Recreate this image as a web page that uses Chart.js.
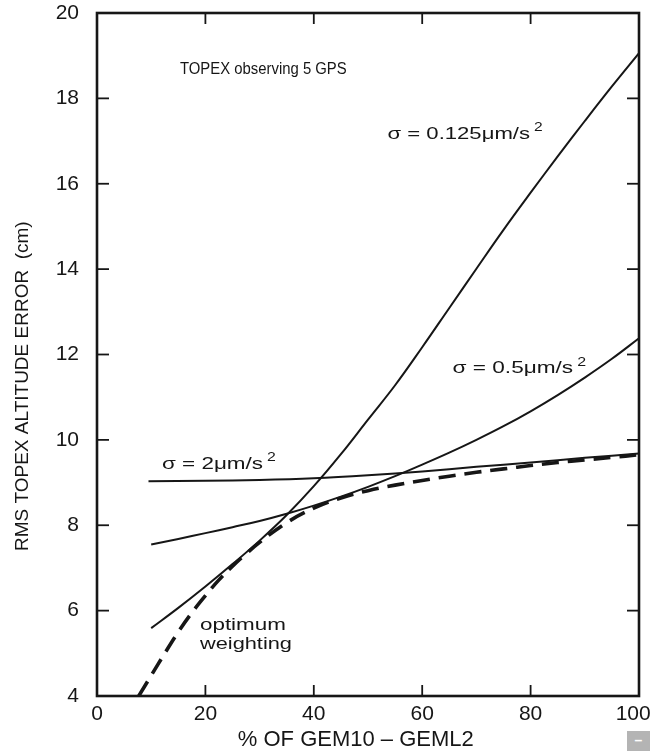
<!DOCTYPE html>
<html>
<head>
<meta charset="utf-8">
<script src="https://cdn.jsdelivr.net/npm/chart.js@4.4.1/dist/chart.umd.min.js"></script>
<style>
  html, body { margin: 0; padding: 0; background: #fff; }
  #wrap { position: relative; width: 653px; height: 753px; }
  canvas { display: block; }
  #mini { position: absolute; left: 627px; top: 731px; width: 23px; height: 20px; background: #b4b4b4; color: #fff;
          font: bold 14px 'Liberation Sans', Arial, sans-serif; text-align: center; line-height: 19px; }
</style>
</head>
<body>
<div id="wrap">
  <canvas id="c" width="653" height="753"></canvas>
  <div id="mini">–</div>
</div>
<script>
// ---- tick labels ----
const xTickValues = [0, 20, 40, 60, 80, 100];
const yTickValues = [4, 6, 8, 10, 12, 14, 16, 18, 20];

// ---- series: sigma = 0.125 um/s^2 ----
const xSigma0125 = [10, 15, 20, 25, 30, 35, 40, 45, 50, 55, 60, 65, 70, 75, 80, 85, 90, 95, 100];
const ySigma0125 = [5.59, 6.065, 6.565, 7.09, 7.64, 8.24, 8.915, 9.665, 10.475, 11.28, 12.17, 13.09, 14.01, 14.92, 15.79, 16.64, 17.47, 18.28, 19.06];

// ---- series: sigma = 0.5 um/s^2 ----
const xSigma05 = [10, 15, 20, 25, 30, 35, 40, 45, 50, 55, 60, 65, 70, 75, 80, 85, 90, 95, 100];
const ySigma05 = [7.55, 7.68, 7.815, 7.955, 8.1, 8.27, 8.46, 8.67, 8.9, 9.15, 9.42, 9.7, 10.0, 10.32, 10.67, 11.05, 11.46, 11.9, 12.38];

// ---- series: sigma = 2 um/s^2 ----
const xSigma2 = [9.5, 20, 30, 40, 50, 60, 70, 80, 90, 100];
const ySigma2 = [9.03, 9.04, 9.06, 9.1, 9.17, 9.26, 9.37, 9.47, 9.58, 9.68];

// ---- series: optimum weighting (dashed) ----
const xOptimum = [7.7, 10, 12.5, 15, 17.5, 20, 22.5, 25, 27.5, 30, 35, 40, 45, 50, 55, 60, 65, 70, 75, 80, 85, 90, 95, 100];
const yOptimum = [4.0, 4.48, 5.0, 5.5, 5.95, 6.35, 6.72, 7.04, 7.33, 7.6, 8.06, 8.4, 8.64, 8.81, 8.94, 9.05, 9.15, 9.24, 9.32, 9.4, 9.47, 9.53, 9.59, 9.65];

const pts = (xs, ys) => xs.map((x, i) => ({ x: x, y: ys[i] }));

const INK = '#161616';
const FONT = "'Liberation Sans', Arial, Helvetica, sans-serif";

// in-plot annotation texts (anchored in data coordinates)
const notes = [
  { text: 'TOPEX observing 5 GPS', x: 15.3, y: 18.57, size: 16, stretch: 0.93 },
  { text: 'σ = 0.125μm/s', sup: '2', x: 53.6, y: 17.05, size: 17, stretch: 1.3 },
  { text: 'σ = 0.5μm/s', sup: '2', x: 65.6, y: 11.56, size: 17, stretch: 1.33 },
  { text: 'σ = 2μm/s', sup: '2', x: 12.0, y: 9.32, size: 17, stretch: 1.32 },
  { text: 'optimum', x: 19.0, y: 5.55, size: 16, stretch: 1.4 },
  { text: 'weighting', x: 19.0, y: 5.1, size: 16, stretch: 1.36 }
];

const framePlugin = {
  id: 'frame',
  afterDatasetsDraw(chart) {
    const { ctx, chartArea: a, scales: { x, y } } = chart;
    ctx.save();
    ctx.strokeStyle = INK;
    ctx.lineCap = 'butt';
    ctx.lineWidth = 1.8;
    const seg = (x1, y1, x2, y2) => { ctx.beginPath(); ctx.moveTo(x1, y1); ctx.lineTo(x2, y2); ctx.stroke(); };
    xTickValues.forEach(v => {
      if (v <= x.min || v >= x.max) return;
      const px = x.getPixelForValue(v);
      seg(px, a.bottom, px, a.bottom - 11);
      seg(px, a.top, px, a.top + 11);
    });
    yTickValues.forEach(v => {
      if (v <= y.min || v >= y.max) return;
      const py = y.getPixelForValue(v);
      seg(a.left, py, a.left + 12, py);
      seg(a.right, py, a.right - 12, py);
    });
    ctx.lineWidth = 2.6;
    ctx.strokeRect(a.left, a.top, a.right - a.left, a.bottom - a.top);

    ctx.fillStyle = INK;
    ctx.textBaseline = 'alphabetic';
    ctx.textAlign = 'left';
    notes.forEach(n => {
      const px = x.getPixelForValue(n.x);
      const py = y.getPixelForValue(n.y);
      ctx.save();
      ctx.translate(px, py);
      ctx.scale(n.stretch, 1);
      ctx.font = n.size + 'px ' + FONT;
      ctx.fillText(n.text, 0, 0);
      if (n.sup) {
        const w = ctx.measureText(n.text).width;
        ctx.font = Math.round(n.size * 0.72) + 'px ' + FONT;
        ctx.fillText(n.sup, w + 3, -n.size * 0.45);
      }
      ctx.restore();
    });
    ctx.restore();
  }
};

const lineStyle = { borderColor: INK, borderWidth: 2, pointRadius: 0, tension: 0.4, fill: false };

new Chart(document.getElementById('c'), {
  type: 'line',
  data: {
    datasets: [
      Object.assign({ label: 'σ = 0.125μm/s²', data: pts(xSigma0125, ySigma0125) }, lineStyle),
      Object.assign({ label: 'σ = 0.5μm/s²', data: pts(xSigma05, ySigma05) }, lineStyle),
      Object.assign({ label: 'σ = 2μm/s²', data: pts(xSigma2, ySigma2) }, lineStyle),
      Object.assign({}, lineStyle, { label: 'optimum weighting', data: pts(xOptimum, yOptimum), borderWidth: 3.6, borderDash: [17, 9] })
    ]
  },
  options: {
    responsive: false,
    animation: false,
    devicePixelRatio: 1,
    layout: { padding: { top: 13, right: 14, left: 0, bottom: 0 } },
    plugins: { legend: { display: false }, tooltip: { enabled: false } },
    scales: {
      x: {
        type: 'linear', min: 0, max: 100,
        afterBuildTicks: s => { s.ticks = xTickValues.map(v => ({ value: v })); },
        afterFit: s => { s.height = 57; s.paddingLeft = 0; s.paddingRight = 0; },
        grid: { display: false, drawTicks: false },
        border: { display: false },
        ticks: { color: INK, font: { family: FONT, size: 21 }, padding: 6, maxRotation: 0, autoSkip: false,
                 callback: v => (v === 100 ? '100  ' : String(v)) },
        title: { display: true, text: '% OF GEM10 – GEML2    ', color: INK, font: { family: FONT, size: 22 }, padding: { top: 0, bottom: 0 } }
      },
      y: {
        type: 'linear', min: 4, max: 20,
        afterBuildTicks: s => { s.ticks = yTickValues.map(v => ({ value: v })); },
        afterFit: s => { s.width = 97; s.paddingTop = 0; s.paddingBottom = 0; },
        grid: { display: false, drawTicks: false },
        border: { display: false },
        ticks: { color: INK, font: { family: FONT, size: 21 }, padding: 18, autoSkip: false },
        title: { display: true, text: 'RMS TOPEX ALTITUDE ERROR  (cm)            ', color: INK, font: { family: FONT, size: 19 }, padding: { top: 11, bottom: 0 } }
      }
    }
  },
  plugins: [framePlugin]
});
</script>
</body>
</html>
